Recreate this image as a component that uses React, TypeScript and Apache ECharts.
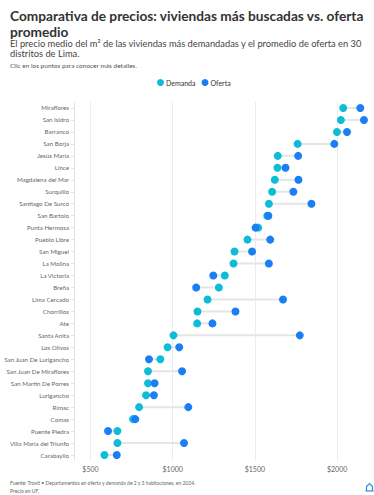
import React, { useEffect, useRef } from "react";
import * as echarts from "echarts";

const categories = [
  "Miraflores", "San Isidro", "Barranco", "San Borja", "Jesús María", "Lince",
  "Magdalena del Mar", "Surquillo", "Santiago De Surco", "San Bartolo", "Punta Hermosa",
  "Pueblo Libre", "San Miguel", "La Molina", "La Victoria", "Breña", "Lima Cercado",
  "Chorrillos", "Ate", "Santa Anita", "Los Olivos", "San Juan De Lurigancho",
  "San Juan De Miraflores", "San Martín De Porres", "Lurigancho", "Rímac", "Comas",
  "Puente Piedra", "Villa María del Triunfo", "Carabayllo",
];

const demanda = [
  2037, 2023, 1999, 1760, 1639, 1637, 1621, 1605, 1585, 1575, 1520, 1455, 1376, 1370,
  1317, 1281, 1212, 1151, 1149, 1005, 969, 925, 850, 850, 838, 796, 759, 664, 664, 585,
];

const oferta = [
  2141, 2163, 2060, 1983, 1763, 1686, 1765, 1734, 1844, 1582, 1504, 1593, 1483, 1585,
  1247, 1143, 1671, 1382, 1242, 1773, 1040, 856, 1057, 890, 886, 1095, 773, 607, 1069, 660,
];

const tickLabels = [500, 1000, 1500, 2000];

const CYAN = "#0dbdd7";
const BLUE = "#1a7ef5";
const FONT = "Lato, 'Noto Sans', sans-serif";

export default function App() {
  const ref = useRef<HTMLDivElement>(null);
  useEffect(() => {
    document.body.style.margin = "0";
    const chart = echarts.init(ref.current!, undefined, { renderer: "svg" });
    const option: any = {
      animation: false,
      textStyle: { fontFamily: FONT },
      legend: {
        data: ["Demanda", "Oferta"],
        left: 152,
        top: 74,
        icon: "circle",
        itemWidth: 7,
        itemHeight: 7,
        itemGap: 6,
        textStyle: { fontSize: 7, color: "#333", fontFamily: FONT, padding: [0, 0, 0, -3] },
      },
      grid: { left: 74, right: 4, top: 102, bottom: 34, containLabel: false },
      xAxis: {
        type: "value",
        min: 400,
        max: 2200,
        interval: 100,
        axisLine: { show: false },
        axisTick: { show: false },
        splitLine: {
          show: true,
          lineStyle: { color: ["rgba(0,0,0,0)", "#ececec", "rgba(0,0,0,0)", "rgba(0,0,0,0)", "rgba(0,0,0,0)"], width: 1 },
        },
        axisLabel: {
          fontSize: 7,
          color: "#666",
          margin: 4,
          formatter: (v: number) => (tickLabels.includes(v) ? "$" + v : ""),
        },
      },
      yAxis: {
        type: "category",
        data: categories,
        inverse: true,
        axisLine: { show: true, lineStyle: { color: "#e4e4e4" } },
        axisTick: { show: true, length: 3, lineStyle: { color: "#e4e4e4" }, alignWithLabel: true },
        axisLabel: { fontSize: 6.2, color: "#666", margin: 5 },
        splitLine: { show: false },
      },
      series: [
        {
          type: "custom",
          silent: true,
          data: categories.map((_, i) => [demanda[i], oferta[i], i]),
          encode: { x: [0, 1], y: 2 },
          renderItem: (_params: any, api: any) => {
            const p1 = api.coord([api.value(0), api.value(2)]);
            const p2 = api.coord([api.value(1), api.value(2)]);
            return {
              type: "line",
              shape: { x1: p1[0], y1: p1[1], x2: p2[0], y2: p2[1] },
              style: { stroke: "#e5e5e5", lineWidth: 2 },
            };
          },
          z: 1,
        },
        {
          name: "Demanda",
          type: "scatter",
          data: demanda.map((v, i) => [v, i]),
          symbol: "circle",
          symbolSize: 8,
          itemStyle: { color: CYAN, opacity: 1 },
          z: 2,
        },
        {
          name: "Oferta",
          type: "scatter",
          data: oferta.map((v, i) => [v, i]),
          symbol: "circle",
          symbolSize: 8,
          itemStyle: { color: BLUE, opacity: 1 },
          z: 3,
        },
      ],
      graphic: [
        {
          type: "text",
          left: 10,
          top: 7,
          style: {
            text: "Comparativa de precios: viviendas más buscadas vs. oferta\npromedio",
            font: `bold 13.7px ${FONT}`,
            fill: "#333",
            lineHeight: 16,
          },
        },
        {
          type: "text",
          left: 10,
          top: 38.5,
          style: {
            text: "El precio medio del m² de las viviendas más demandadas y el promedio de oferta en 30\ndistritos de Lima.",
            font: `9.3px ${FONT}`,
            fill: "#444",
            lineHeight: 10,
          },
        },
        {
          type: "text",
          left: 10,
          top: 62,
          style: {
            text: "Clic en los puntos para conocer más detalles.",
            font: `6.5px ${FONT}`,
            fill: "#555",
          },
        },
        {
          type: "text",
          left: 10,
          top: 479,
          style: {
            text: "Fuente: Trovit • Departamentos en oferta y demanda de 2 y 3 habitaciones, en 2024.\nPrecio en UF.",
            font: `5px ${FONT}`,
            fill: "#666",
            lineHeight: 8,
          },
        },
        {
          type: "polyline",
          shape: { points: [[366.5, 491], [366.5, 486.5], [369.5, 483.5], [372.5, 486.5], [372.5, 491]] },
          style: { stroke: "#2a8af0", lineWidth: 1.2, fill: "none" },
        },
        {
          type: "line",
          shape: { x1: 365.5, y1: 491, x2: 373.5, y2: 491 },
          style: { stroke: "#2a8af0", lineWidth: 1.2 },
        },
      ],
    };
    chart.setOption(option);
    return () => chart.dispose();
  }, []);
  return <div ref={ref} style={{ width: 374, height: 495 }} />;
}
